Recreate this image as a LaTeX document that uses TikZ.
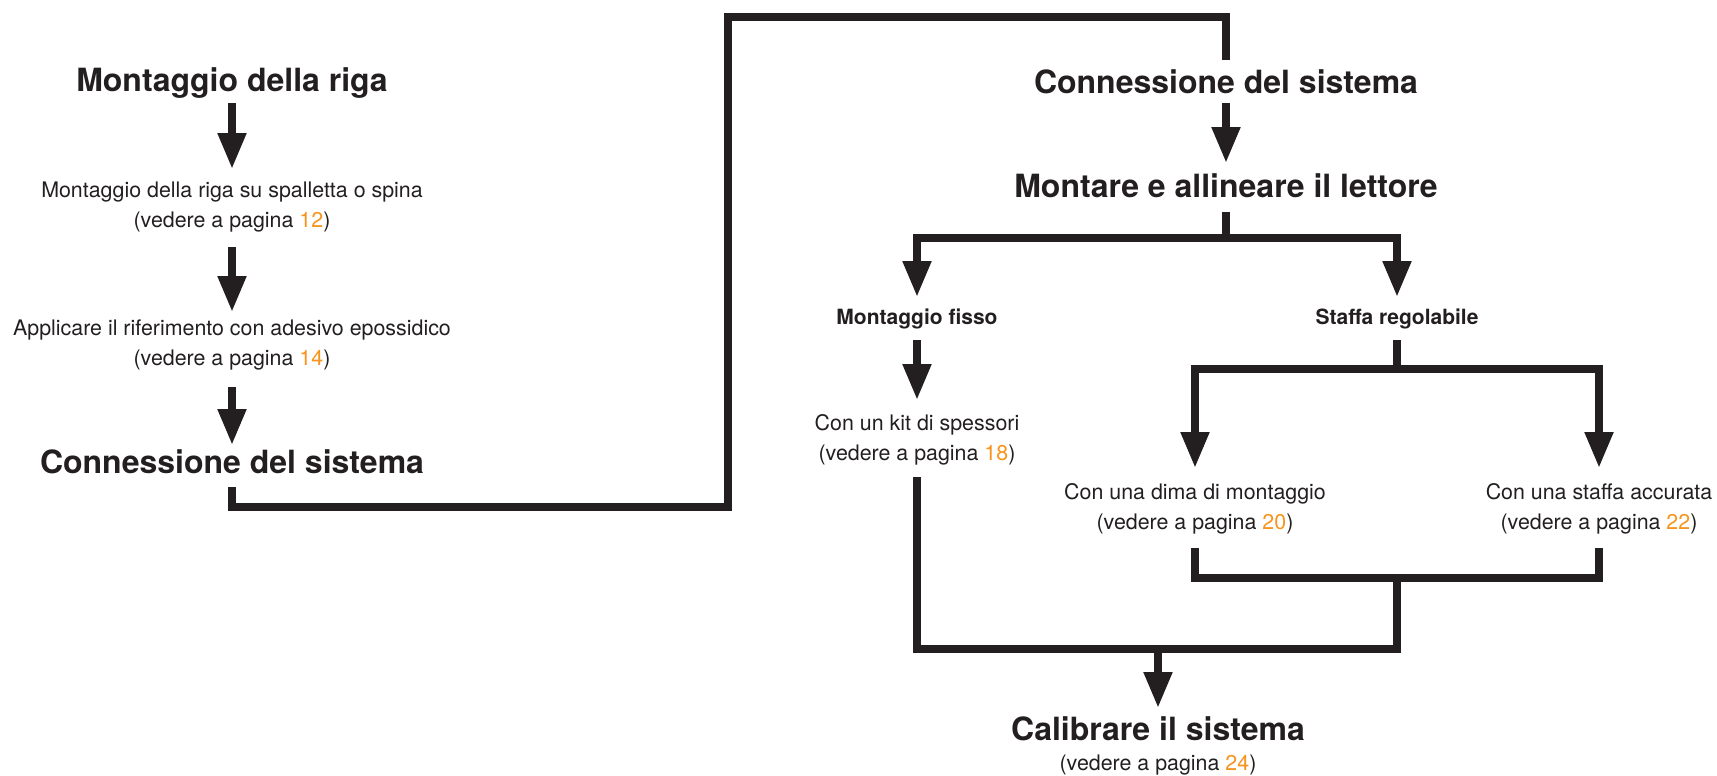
\documentclass[tikz,border=0pt]{standalone}
\usepackage{fontspec}
\setmainfont{TeX Gyre Heros}
\usetikzlibrary{arrows.meta,calc}
\definecolor{ink}{HTML}{231F20}
\definecolor{pg}{HTML}{F7941D}
\begin{document}
\begin{tikzpicture}[x=1pt,y=-1pt,
  big/.style={font=\fontsize{32}{38}\selectfont\bfseries, text=ink, inner sep=0pt, anchor=base},
  sub/.style={font=\fontsize{21}{25}\selectfont\bfseries, text=ink, inner sep=0pt, anchor=base},
  txt/.style={font=\fontsize{21.4}{25}\selectfont, text=ink, inner sep=0pt, anchor=base},
  line/.style={draw=ink, line width=8pt},
  arr/.style={line, -{Triangle[length=36pt,width=27pt]}},
]
\useasboundingbox (0,0) rectangle (1717,776);

% left column
\node[big] (t1) at (232,92) {Montaggio della riga};
\node[txt] (t2a) at (232,197) {Montaggio della riga su spalletta o spina};
\node[txt] (t2b) at (232,227) {(vedere a pagina \textcolor{pg}{12})};
\node[txt] (t3a) at (232,335) {Applicare il riferimento con adesivo epossidico};
\node[txt] (t3b) at (232,365) {(vedere a pagina \textcolor{pg}{14})};
\node[big] (t4) at (232,473) {Connessione del sistema};

% right part
\node[big] (r1) at (1226,94) {Connessione del sistema};
\node[big] (r2) at (1226,197) {Montare e allineare il lettore};
\node[sub] (f1) at (917,324) {Montaggio fisso};
\node[sub] (s1) at (1397,324) {Staffa regolabile};
\node[txt] (k1) at (917,430) {Con un kit di spessori};
\node[txt] (k2) at (917,460) {(vedere a pagina \textcolor{pg}{18})};
\node[txt] (d1) at (1195,499) {Con una dima di montaggio};
\node[txt] (d2) at (1195,529) {(vedere a pagina \textcolor{pg}{20})};
\node[txt] (c1) at (1599,499) {Con una staffa accurata};
\node[txt] (c2) at (1599,529) {(vedere a pagina \textcolor{pg}{22})};
\node[big] (cal) at (1158,740) {Calibrare il sistema};
\node[txt] (cal2) at (1158,770) {(vedere a pagina \textcolor{pg}{24})};

\coordinate (jr) at (1397,578);
\coordinate (mg) at (1158,649);

% left connectors
\draw[arr] ($(t1.base)+(0,11)$) -- ($(t2a.base)+(0,-28)$);
\draw[arr] ($(t2b.base)+(0,20)$) -- ($(t3a.base)+(0,-23)$);
\draw[arr] ($(t3b.base)+(0,22)$) -- ($(t4.base)+(0,-28)$);
\draw[line] ($(t4.base)+(0,14)$) |- (728,507) -- (728,17) -| ($(r1.base)+(0,-34)$);

% right connectors
\draw[arr] ($(r1.base)+(0,9)$) -- ($(r2.base)+(0,-34)$);
\draw[line] ($(r2.base)+(0,15)$) -- ($(r2.base)+(0,41)$);
\draw[arr] ($(r2.base)+(0,40.5)$) -| ($(f1.base)+(0,-27)$);
\draw[arr] ($(r2.base)+(0,40.5)$) -| ($(s1.base)+(0,-27)$);
\draw[arr] ($(f1.base)+(0,16)$) -- ($(k1.base)+(0,-30)$);
\draw[line] ($(s1.base)+(0,16)$) -- ($(s1.base)+(0,45.5)$);
\draw[arr] ($(s1.base)+(0,45)$) -| ($(d1.base)+(0,-31)$);
\draw[arr] ($(s1.base)+(0,45)$) -| ($(c1.base)+(0,-31)$);
\draw[line] ($(d2.base)+(0,19)$) |- ($(c2.base)+(0,49)$) -- ($(c2.base)+(0,19)$);
\draw[line] ($(k2.base)+(0,17)$) |- (jr |- mg) -- (jr);
\draw[arr] (mg) -- ($(cal.base)+(0,-32)$);
\end{tikzpicture}
\end{document}
